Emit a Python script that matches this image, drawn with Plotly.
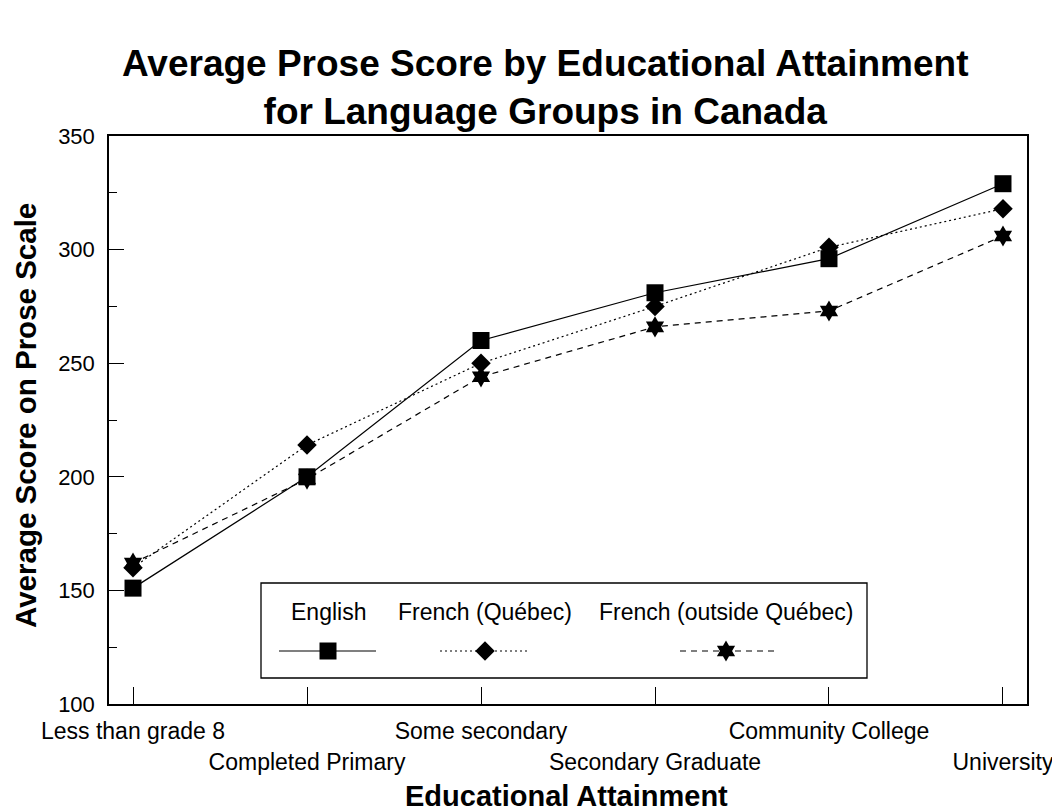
import plotly.graph_objects as go

categories = ["Less than grade 8", "Completed Primary", "Some secondary",
              "Secondary Graduate", "Community College", "University"]
english = [151, 200, 260, 281, 296, 329]
french_quebec = [160, 214, 250, 275, 301, 318]
french_outside = [162, 199, 244, 266, 273, 306]
series_names = ["English", "French (Québec)", "French (outside Québec)"]

FONT = "Liberation Sans, Arial, sans-serif"
x = list(range(len(categories)))
odd_idx = [0, 2, 4]
even_idx = [1, 3, 5]

# the page has an 8px body margin, so the figure is laid out shifted by 8px
W, H = 1060, 812
# plot area in screenshot pixels
L, R, T, B = 109, 1027, 136, 704
OFF = 8
px_x = lambda p: (p - L) / (R - L)
px_y = lambda p: (B - p) / (B - T)

fig = go.Figure()
fig.add_trace(go.Scatter(x=x, y=french_outside, mode="lines+markers", name=series_names[2],
                         line=dict(color="black", width=1.2, dash="6px,5px"),
                         marker=dict(symbol="hexagram", size=16, color="black")))
fig.add_trace(go.Scatter(x=x, y=french_quebec, mode="lines+markers", name=series_names[1],
                         line=dict(color="black", width=1.2, dash="2px,3px"),
                         marker=dict(symbol="diamond", size=15, color="black")))
fig.add_trace(go.Scatter(x=x, y=english, mode="lines+markers", name=series_names[0],
                         line=dict(color="black", width=1.2),
                         marker=dict(symbol="square", size=17, color="black")))
# carrier trace for the second (staggered) row of category labels
fig.add_trace(go.Scatter(x=even_idx, y=[english[i] for i in even_idx], xaxis="x2", yaxis="y",
                         mode="markers", marker=dict(opacity=0), showlegend=False,
                         hoverinfo="skip"))

# legend samples drawn in a helper subplot whose axes run in screenshot pixel units
leg_specs = [
    (series_names[0], 279, 376, 328, "solid", "square", 17),
    (series_names[1], 440, 530, 485, "2px,3px", "diamond", 15),
    (series_names[2], 680, 775, 726, "6px,5px", "hexagram", 16),
]
for name, x0, x1, xm, dash, sym, sz in leg_specs:
    fig.add_trace(go.Scatter(x=[x0, x1], y=[651, 651], mode="lines", xaxis="x3", yaxis="y3",
                             line=dict(color="black", width=1.2, dash=dash), showlegend=False,
                             hoverinfo="skip"))
    fig.add_trace(go.Scatter(x=[xm], y=[651], mode="markers", xaxis="x3", yaxis="y3",
                             marker=dict(symbol=sym, size=sz, color="black"), showlegend=False,
                             hoverinfo="skip"))
    fig.add_annotation(x=xm, y=612, xref="x3", yref="y3", text=name, showarrow=False,
                       font=dict(family=FONT, size=23, color="black"))

fig.add_shape(type="rect", xref="paper", yref="paper",
              x0=px_x(261), x1=px_x(867), y0=px_y(678), y1=px_y(583),
              line=dict(color="black", width=1.3), fillcolor="white", layer="below")

# titles
fig.add_annotation(x=px_x(545), y=px_y(87), xref="paper", yref="paper",
                   xanchor="center", yanchor="middle", showarrow=False,
                   text="<b>Average Prose Score by Educational Attainment<br>for Language Groups in Canada</b>",
                   font=dict(family=FONT, size=37, color="black"))
fig.add_annotation(x=px_x(566), y=px_y(796), xref="paper", yref="paper",
                   xanchor="center", yanchor="middle", showarrow=False,
                   text="<b>Educational Attainment</b>",
                   font=dict(family=FONT, size=29, color="black"))
fig.add_annotation(x=px_x(25), y=px_y(416), xref="paper", yref="paper",
                   xanchor="center", yanchor="middle", showarrow=False, textangle=-90,
                   text="<b>Average Score on Prose Scale</b>",
                   font=dict(family=FONT, size=29.5, color="black"))

fig.update_layout(
    width=W, height=H,
    margin=dict(l=L - OFF, r=W - (R - OFF), t=T - OFF, b=H - (B - OFF)),
    paper_bgcolor="white", plot_bgcolor="rgba(0,0,0,0)",
    showlegend=False,
    xaxis=dict(range=[-0.138, 5.138], tickvals=x,
               ticktext=[categories[i] if i in odd_idx else "" for i in x],
               ticks="inside", ticklen=17, tickwidth=1, tickcolor="black",
               showline=True, linecolor="black", linewidth=1.5, mirror=True,
               showgrid=False, zeroline=False, ticklabelstandoff=6,
               tickfont=dict(family=FONT, size=23, color="black")),
    xaxis2=dict(range=[-0.138, 5.138], overlaying="x", anchor="y", side="bottom",
                tickvals=even_idx, ticktext=[categories[i] for i in even_idx],
                ticks="", showline=False, showgrid=False, zeroline=False,
                ticklabelstandoff=42,
                tickfont=dict(family=FONT, size=23, color="black")),
    yaxis=dict(range=[100, 350], tickvals=[100, 150, 200, 250, 300, 350],
               ticks="inside", ticklen=15, tickwidth=1, tickcolor="black",
               minor=dict(dtick=25, ticks="inside", ticklen=8, tickcolor="black", tickwidth=1),
               showline=True, linecolor="black", linewidth=1.5, mirror=True,
               showgrid=False, zeroline=False, ticklabelstandoff=8,
               tickfont=dict(family=FONT, size=22, color="black")),
    xaxis3=dict(domain=[0, 1], range=[L, R], visible=False, anchor="y3"),
    yaxis3=dict(domain=[0, 1], range=[B, T], visible=False, anchor="x3"),
)
fig.write_html("out.html")
